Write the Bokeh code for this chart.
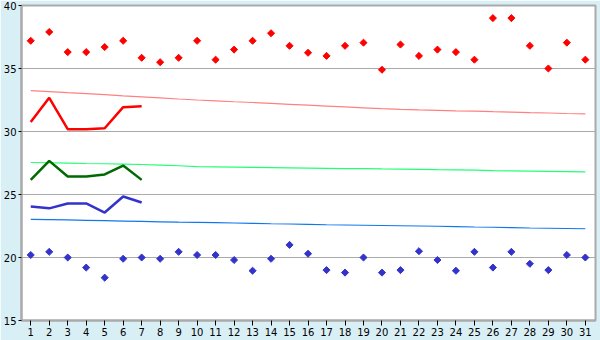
import math
from bokeh.plotting import figure
from bokeh.models import FixedTicker, Range1d
from bokeh.embed import file_html
from bokeh.resources import INLINE

days = list(range(1, 32))

obs_max_points = [37.2, 37.9, 36.3, 36.3, 36.7, 37.2, 35.85, 35.5, 35.85, 37.2,
                  35.7, 36.5, 37.2, 37.8, 36.8, 36.25, 36.0, 36.8, 37.05, 34.9,
                  36.9, 36.0, 36.5, 36.3, 35.7, 39.0, 39.0, 36.8, 35.0, 37.05, 35.7]
obs_min_points = [20.2, 20.45, 20.0, 19.2, 18.4, 19.9, 20.0, 19.9, 20.45, 20.2,
                  20.2, 19.8, 18.95, 19.9, 21.0, 20.3, 19.0, 18.8, 20.0, 18.8,
                  19.0, 20.5, 19.8, 18.95, 20.45, 19.2, 20.45, 19.5, 19.0, 20.2, 20.0]

line_days = [1, 2, 3, 4, 5, 6, 7]
line_max = [30.75, 32.67, 30.18, 30.18, 30.26, 31.93, 32.0]
line_mean = [26.16, 27.67, 26.43, 26.43, 26.59, 27.3, 26.16]
line_min = [24.05, 23.9, 24.29, 24.29, 23.57, 24.84, 24.37]

normal_max = [33.25, 33.17, 33.08, 33.0, 32.92, 32.83, 32.75, 32.67, 32.58, 32.5,
              32.43, 32.36, 32.3, 32.23, 32.16, 32.09, 32.02, 31.95, 31.88, 31.81,
              31.75, 31.71, 31.68, 31.64, 31.61, 31.57, 31.54, 31.5, 31.47, 31.43, 31.4]
normal_mean = [27.54, 27.52, 27.49, 27.46, 27.44, 27.41, 27.38, 27.33, 27.28, 27.22,
               27.2, 27.18, 27.16, 27.14, 27.12, 27.1, 27.08, 27.06, 27.05, 27.03,
               27.02, 27.0, 26.97, 26.95, 26.93, 26.9, 26.88, 26.86, 26.84, 26.82, 26.8]
normal_min = [23.02, 23.0, 22.98, 22.95, 22.92, 22.89, 22.86, 22.83, 22.8, 22.78,
              22.76, 22.74, 22.71, 22.68, 22.66, 22.63, 22.6, 22.58, 22.56, 22.54,
              22.52, 22.5, 22.48, 22.45, 22.42, 22.4, 22.37, 22.34, 22.32, 22.3, 22.28]

y_ticks = [15, 20, 25, 30, 35, 40]

BG = "#d9eff6"
GRID = "#aaaaaa"
FONT = "DejaVu Sans"

p = figure(width=600, height=340, output_backend="svg", toolbar_location=None,
           x_range=Range1d(0.5, 31.55), y_range=Range1d(15, 40),
           min_border_left=20, min_border_right=5, min_border_top=5, min_border_bottom=20)
p.background_fill_color = "white"
p.border_fill_color = BG
p.outline_line_color = GRID
p.outline_line_width = 2

p.xgrid.grid_line_color = None
p.ygrid.grid_line_color = GRID
p.ygrid.grid_line_width = 1
p.ygrid.ticker = FixedTicker(ticks=y_ticks)

for ax in (p.xaxis[0], p.yaxis[0]):
    ax.axis_line_color = GRID
    ax.axis_line_width = 2
    ax.major_tick_line_color = "black"
    ax.major_tick_in = 0
    ax.minor_tick_line_color = None
    ax.major_label_text_font = FONT
    ax.major_label_text_font_size = "10px"
    ax.major_label_text_color = "black"

p.yaxis[0].ticker = FixedTicker(ticks=y_ticks)
p.yaxis[0].major_tick_out = 3
p.yaxis[0].major_label_standoff = 2
p.xaxis[0].ticker = FixedTicker(ticks=days)
p.xaxis[0].major_tick_out = 5
p.xaxis[0].major_label_standoff = 2

# normals
p.line(days, normal_max, line_color="#ff8080", line_width=1.2)
p.line(days, normal_mean, line_color="#22ff77", line_width=1.2)
p.line(days, normal_min, line_color="#1177ee", line_width=1.2)

# observed lines
p.line(line_days, line_max, line_color="#ff0000", line_width=2.5)
p.line(line_days, line_mean, line_color="#006a00", line_width=2.5)
p.line(line_days, line_min, line_color="#3333cc", line_width=2.5)

# points
p.scatter(days, obs_max_points, marker="square", angle=math.pi / 4, size=5,
          fill_color="#ff0000", line_color="#ff0000", line_width=1)
p.scatter(days, obs_min_points, marker="square", angle=math.pi / 4, size=5,
          fill_color="#3333cc", line_color="#3333cc", line_width=1)

open("out.html", "w").write(file_html(p, INLINE))
